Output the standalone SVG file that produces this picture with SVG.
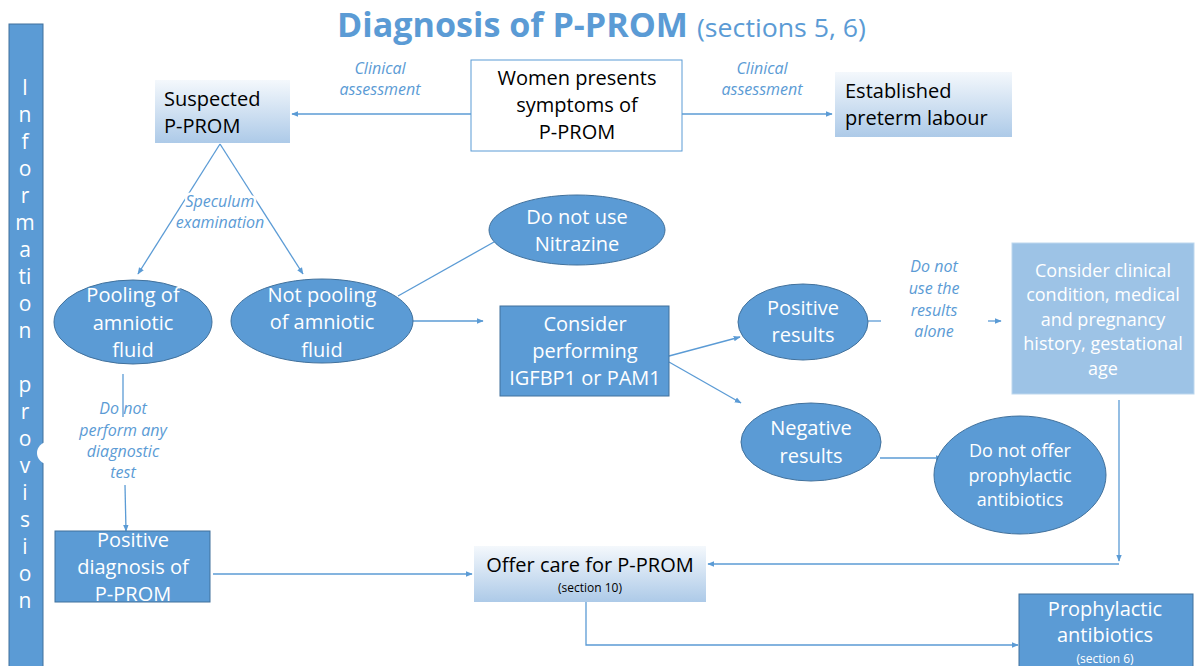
<svg xmlns="http://www.w3.org/2000/svg" width="1200" height="666" viewBox="0 0 1200 666">
  <defs>
    <linearGradient id="paleFill" x1="0" y1="0" x2="0" y2="1">
      <stop offset="0" stop-color="#F4F8FC"/>
      <stop offset="1" stop-color="#ADCAE8"/>
    </linearGradient>
    <marker id="arrow" viewBox="0 0 10 10" refX="9" refY="5" markerWidth="7" markerHeight="7" orient="auto-start-reverse" markerUnits="userSpaceOnUse">
      <path d="M0,1 L10,5 L0,9 z" fill="#5B9BD5"/>
    </marker>
    <style>
      text { font-family: "Open Sans", "Liberation Sans", sans-serif; }
      .solid { fill: #5B9BD5; stroke: #41719C; stroke-width: 1; }
      .light { fill: #9DC3E6; stroke: #BDD7EE; stroke-width: 1; }
      .pale { fill: url(#paleFill); }
      .wt { fill: #FFFFFF; font-size: 20px; text-anchor: middle; }
      .bk { fill: #000000; font-size: 20px; }
      .note { fill: #5B9BD5; font-size: 16px; font-style: italic; text-anchor: middle; }
      .halo { stroke: #FFFFFF; stroke-width: 5px; paint-order: stroke; stroke-linejoin: round; }
      .side { fill: #FFFFFF; font-size: 21px; text-anchor: middle; }
      .small { font-size: 12px; }
      .conn line, .conn polyline { stroke: #5B9BD5; stroke-width: 1.3; fill: none; }
    </style>
  </defs>

  <rect width="1200" height="666" fill="#FFFFFF"/>

  <!-- heading -->
  <g id="title">
    <text x="337" y="37" fill="#5B9BD5" style="font-size:34px;font-weight:bold" textLength="351" lengthAdjust="spacingAndGlyphs">Diagnosis of P-PROM</text>
    <text x="697" y="37" fill="#5B9BD5" style="font-size:26px" textLength="169" lengthAdjust="spacingAndGlyphs">(sections 5, 6)</text>
  </g>

  <!-- vertical side banner -->
  <g id="information-provision">
    <rect x="9" y="24" width="34" height="650" class="solid"/>
    <circle cx="48" cy="453" r="11" fill="#FFFFFF"/>
    <text class="side" x="25" y="95">I</text>
    <text class="side" x="25" y="122">n</text>
    <text class="side" x="25" y="149">f</text>
    <text class="side" x="25" y="176">o</text>
    <text class="side" x="25" y="203">r</text>
    <text class="side" x="25" y="230">m</text>
    <text class="side" x="25" y="257">a</text>
    <text class="side" x="25" y="284">ti</text>
    <text class="side" x="25" y="311">o</text>
    <text class="side" x="25" y="338">n</text>
    <text class="side" x="25" y="392">p</text>
    <text class="side" x="25" y="419">r</text>
    <text class="side" x="25" y="446">o</text>
    <text class="side" x="25" y="473">v</text>
    <text class="side" x="25" y="500">i</text>
    <text class="side" x="25" y="527">s</text>
    <text class="side" x="25" y="554">i</text>
    <text class="side" x="25" y="581">o</text>
    <text class="side" x="25" y="608">n</text>
  </g>

  <!-- connectors -->
  <g id="connectors" class="conn">
    <line x1="471" y1="114" x2="292" y2="114" marker-end="url(#arrow)"/>
    <line x1="682" y1="114" x2="832" y2="114" marker-end="url(#arrow)"/>
    <line x1="220" y1="144" x2="138" y2="274" marker-end="url(#arrow)"/>
    <line x1="220" y1="144" x2="303" y2="274" marker-end="url(#arrow)"/>
    <line x1="398" y1="296" x2="494" y2="242"/>
    <line x1="413" y1="321" x2="483" y2="321" marker-end="url(#arrow)"/>
    <line x1="669" y1="356" x2="740" y2="337" marker-end="url(#arrow)"/>
    <line x1="669" y1="362" x2="741" y2="403" marker-end="url(#arrow)"/>
    <line x1="868" y1="321" x2="881" y2="321"/>
    <line x1="988" y1="321" x2="1001" y2="321" marker-end="url(#arrow)"/>
    <line x1="880" y1="458" x2="942" y2="458" marker-end="url(#arrow)"/>
    <line x1="1119" y1="400" x2="1119" y2="561" marker-end="url(#arrow)"/>
    <line x1="1119" y1="564" x2="708" y2="564" marker-end="url(#arrow)"/>
    <line x1="123" y1="374" x2="123" y2="417"/>
    <line x1="125" y1="485" x2="126" y2="531" marker-end="url(#arrow)"/>
    <line x1="213" y1="574" x2="472" y2="574" marker-end="url(#arrow)"/>
    <polyline points="586,602 586,645 1018,645" marker-end="url(#arrow)"/>
  </g>

  <!-- connector labels -->
  <g id="labels">
    <text class="note" x="380" y="74">Clinical</text>
    <text class="note" x="380" y="95">assessment</text>
    <text class="note" x="762" y="74">Clinical</text>
    <text class="note" x="762" y="95">assessment</text>
    <text class="note halo" x="220" y="207">Speculum</text>
    <text class="note halo" x="220" y="228">examination</text>
    <text class="note" x="934" y="272">Do not</text>
    <text class="note" x="934" y="294">use the</text>
    <text class="note" x="934" y="316">results</text>
    <text class="note" x="934" y="337">alone</text>
    <text class="note" x="123" y="414">Do not</text>
    <text class="note" x="123" y="436">perform any</text>
    <text class="note" x="123" y="457">diagnostic</text>
    <text class="note" x="123" y="478">test</text>
  </g>

  <g id="suspected">
    <rect x="155" y="80" width="135" height="63" class="pale"/>
    <text class="bk" x="164" y="106">Suspected</text>
    <text class="bk" x="164" y="133">P-PROM</text>
  </g>

  <g id="presents">
    <rect x="471" y="60" width="211" height="91" fill="#FFFFFF" stroke="#5B9BD5" stroke-width="1"/>
    <text class="bk" x="577" y="85" text-anchor="middle">Women presents</text>
    <text class="bk" x="577" y="112" text-anchor="middle">symptoms of</text>
    <text class="bk" x="577" y="139" text-anchor="middle">P-PROM</text>
  </g>

  <g id="preterm">
    <rect x="835" y="72" width="177" height="65" class="pale"/>
    <text class="bk" x="845" y="98">Established</text>
    <text class="bk" x="845" y="125">preterm labour</text>
  </g>

  <g id="pooling">
    <ellipse cx="133" cy="322" rx="79" ry="42" class="solid"/>
    <text class="wt" x="133" y="302">Pooling of</text>
    <text class="wt" x="133" y="330">amniotic</text>
    <text class="wt" x="133" y="357">fluid</text>
  </g>

  <g id="not-pooling">
    <ellipse cx="322" cy="321" rx="91" ry="42" class="solid"/>
    <text class="wt" x="322" y="302">Not pooling</text>
    <text class="wt" x="322" y="329">of amniotic</text>
    <text class="wt" x="322" y="357">fluid</text>
  </g>

  <g id="nitrazine">
    <ellipse cx="577" cy="230" rx="88" ry="35" class="solid"/>
    <text class="wt" x="577" y="224">Do not use</text>
    <text class="wt" x="577" y="251">Nitrazine</text>
  </g>

  <g id="igfbp1">
    <rect x="500" y="306" width="169" height="90" class="solid"/>
    <text class="wt" x="585" y="331">Consider</text>
    <text class="wt" x="585" y="358">performing</text>
    <text class="wt" x="585" y="385">IGFBP1 or PAM1</text>
  </g>

  <g id="positive-results">
    <ellipse cx="803" cy="322" rx="65" ry="38" class="solid"/>
    <text class="wt" x="803" y="315">Positive</text>
    <text class="wt" x="803" y="342">results</text>
  </g>

  <g id="clinical-condition">
    <rect x="1012" y="243" width="182" height="151" class="light"/>
    <text class="wt" x="1103" y="277" style="font-size:18px">Consider clinical</text>
    <text class="wt" x="1103" y="301" style="font-size:18px">condition, medical</text>
    <text class="wt" x="1103" y="326" style="font-size:18px">and pregnancy</text>
    <text class="wt" x="1103" y="350" style="font-size:18px">history, gestational</text>
    <text class="wt" x="1103" y="375" style="font-size:18px">age</text>
  </g>

  <g id="negative-results">
    <ellipse cx="811" cy="442" rx="70" ry="39" class="solid"/>
    <text class="wt" x="811" y="435">Negative</text>
    <text class="wt" x="811" y="463">results</text>
  </g>

  <g id="no-antibiotics">
    <ellipse cx="1020" cy="475" rx="86" ry="59" class="solid"/>
    <text class="wt" x="1020" y="457" style="font-size:18px">Do not offer</text>
    <text class="wt" x="1020" y="482" style="font-size:18px">prophylactic</text>
    <text class="wt" x="1020" y="506" style="font-size:18px">antibiotics</text>
  </g>

  <g id="positive-diagnosis">
    <rect x="55" y="531" width="155" height="71" class="solid"/>
    <text class="wt" x="133" y="547">Positive</text>
    <text class="wt" x="133" y="574">diagnosis of</text>
    <text class="wt" x="133" y="601">P-PROM</text>
  </g>

  <g id="offer-care">
    <rect x="474" y="546" width="232" height="56" class="pale"/>
    <text class="bk" x="590" y="572" text-anchor="middle">Offer care for P-PROM</text>
    <text class="bk small" x="590" y="592" text-anchor="middle">(section 10)</text>
  </g>

  <g id="prophylactic">
    <rect x="1019" y="594" width="174" height="80" class="solid"/>
    <text class="wt" x="1105" y="616">Prophylactic</text>
    <text class="wt" x="1105" y="642">antibiotics</text>
    <text class="wt small" x="1105" y="663">(section 6)</text>
  </g>
</svg>
